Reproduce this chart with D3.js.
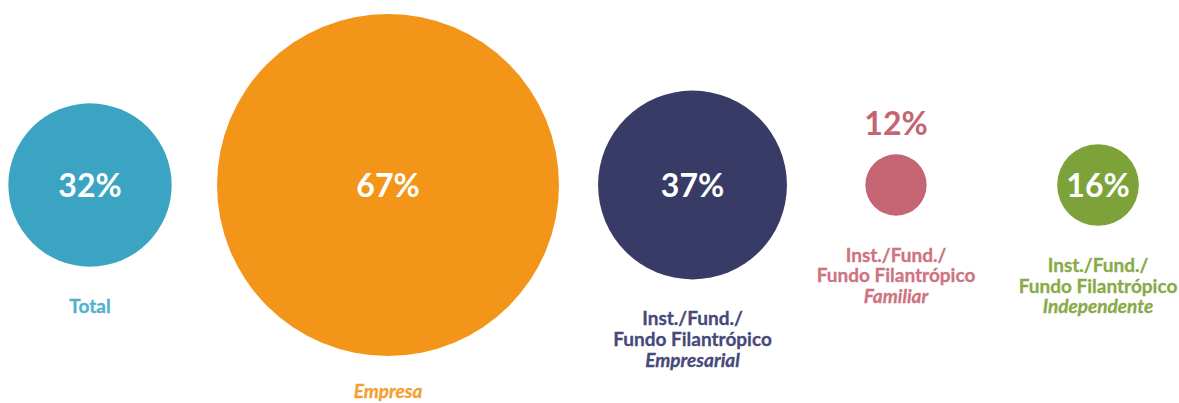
<!DOCTYPE html>
<html>
<head>
<meta charset="utf-8">
<script src="https://cdn.jsdelivr.net/npm/d3@7"></script>
<style>
  html, body { margin: 0; padding: 0; background: #ffffff; }
  svg { display: block; }
  text { font-family: Lato, "Open Sans", sans-serif; }
</style>
</head>
<body>
<svg id="chart" width="1179" height="403"></svg>
<script>
// ---- data ----
const categories = ["Total", "Empresa", "Inst./Fund./Fundo Filantrópico Empresarial", "Inst./Fund./Fundo Filantrópico Familiar", "Inst./Fund./Fundo Filantrópico Independente"];
const values = [32, 67, 37, 12, 16];
const valueLabels = ["32%", "67%", "37%", "12%", "16%"];
const labelPlainLines = [["Total"], [], ["Inst./Fund./", "Fundo Filantrópico"], ["Inst./Fund./", "Fundo Filantrópico"], ["Inst./Fund./", "Fundo Filantrópico"]];
const labelItalicLines = ["", "Empresa", "Empresarial", "Familiar", "Independente"];
const circleColors = ["#3aa4c2", "#f39518", "#383b66", "#c56473", "#7da23a"];
const labelColors = ["#4fb1cf", "#f4a030", "#46497a", "#cd7381", "#89ab47"];

// ---- layout ----
const svg = d3.select("#chart");
const cy = 185;
const x = d3.scaleOrdinal().domain(categories).range([90, 388, 692.5, 896, 1098]);
const r = d3.scaleLinear().domain([0, 67]).range([0, 171]);

const rows = categories.map((c, i) => ({
  cat: c, value: values[i], vlabel: valueLabels[i],
  plain: labelPlainLines[i], italic: labelItalicLines[i],
  color: circleColors[i], lcolor: labelColors[i]
}));

const g = svg.selectAll("g.item").data(rows).join("g").attr("class", "item")
  .attr("transform", d => `translate(${x(d.cat)},${cy})`);

g.append("circle")
  .attr("r", d => r(d.value))
  .attr("fill", d => d.color);

// value labels: inside if circle big enough, otherwise above
g.append("text")
  .attr("text-anchor", "middle")
  .attr("font-weight", 700)
  .attr("font-size", 32)
  .attr("y", d => r(d.value) > 36 ? 11.5 : -r(d.value) - 19)
  .attr("fill", d => r(d.value) > 36 ? "#ffffff" : d.color)
  .text(d => d.vlabel);

// category labels below
const lineH = 20.7;
g.each(function(d) {
  const sel = d3.select(this);
  const y0 = Math.min(r(d.value) + 46, 398 - cy);
  const lines = d.plain.map(t => ({t, it: false}));
  if (d.italic) lines.push({t: d.italic, it: true});
  sel.selectAll("text.lab").data(lines).join("text")
    .attr("class", "lab")
    .attr("text-anchor", "middle")
    .attr("font-weight", 700)
    .attr("font-size", 19)
    .attr("font-style", l => l.it ? "italic" : "normal")
    .attr("fill", d.lcolor)
    .attr("stroke", d.lcolor)
    .attr("stroke-width", 0.3)
    .attr("y", (l, i) => y0 + i * lineH)
    .text(l => l.t);
});
</script>
</body>
</html>
